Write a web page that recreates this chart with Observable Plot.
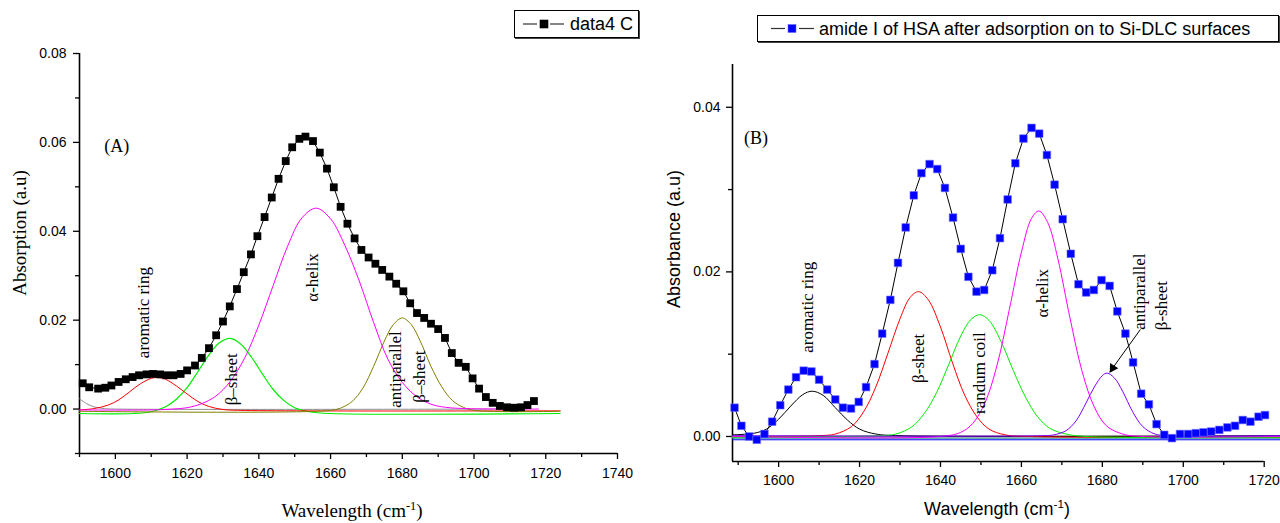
<!DOCTYPE html>
<html><head><meta charset="utf-8">
<script src="https://cdn.jsdelivr.net/npm/d3@7"></script>
<script src="https://cdn.jsdelivr.net/npm/@observablehq/plot@0.6"></script>
<style>
body{margin:0;background:#fff;}
#wrap{position:relative;width:1280px;height:523px;overflow:hidden;background:#fff;}
.panel{position:absolute;top:0;}
.lab{position:absolute;white-space:nowrap;color:#000;line-height:1;}
.legend{position:absolute;box-sizing:border-box;border:1px solid #000;box-shadow:1px 1px 0 #444;background:#fff;font-family:"Liberation Sans",Arial,sans-serif;font-size:18px;color:#000;}
.legend svg{position:absolute;left:0;top:0;}
.legend span{position:absolute;top:50%;transform:translateY(-50%);white-space:nowrap;}
sup{font-size:65%;}
</style></head><body><div id="wrap"></div>
<script>
// ---------- Panel A data ----------
const aXDomain = [1590, 1740];
const aYDomain = [-0.01, 0.08];
const aXMajor = [1600, 1620, 1640, 1660, 1680, 1700, 1720, 1740];
const aXMinor = [1590, 1610, 1630, 1650, 1670, 1690, 1710, 1730];
const aYMajor = [0, 0.02, 0.04, 0.06, 0.08];
const aYMinor = [-0.01, 0.01, 0.03, 0.05, 0.07];

const aX = [1590.9,1592.7,1595.2,1597.2,1598.9,1600.9,1602.9,1604.8,1606.6,1608.7,1610.5,1612.5,1614.2,1616.2,1618.2,1620.0,1622.2,1624.1,1626.1,1628.1,1630.0,1631.9,1633.9,1635.8,1637.8,1639.6,1641.6,1643.6,1645.5,1647.5,1649.3,1651.3,1653.0,1655.1,1657.0,1659.0,1660.9,1662.8,1664.7,1666.7,1668.6,1670.6,1672.5,1674.4,1676.4,1678.3,1680.3,1682.2,1684.1,1686.1,1688.0,1690.0,1691.9,1693.8,1695.7,1697.7,1699.6,1701.4,1703.3,1705.2,1707.2,1709.2,1711.2,1713.1,1714.9,1716.7];
const aY = [0.0058,0.0049,0.0046,0.0048,0.0053,0.0061,0.0067,0.0072,0.0076,0.0078,0.0079,0.0078,0.0076,0.0076,0.0079,0.0087,0.0098,0.0115,0.0137,0.0166,0.0197,0.0231,0.0270,0.0308,0.0348,0.0389,0.0432,0.0476,0.0518,0.0558,0.0589,0.0608,0.0613,0.0603,0.0577,0.0541,0.0499,0.0455,0.0417,0.0384,0.0358,0.0341,0.0327,0.0313,0.0298,0.0282,0.0265,0.0238,0.0216,0.0205,0.0192,0.0180,0.0160,0.0126,0.0104,0.0095,0.0069,0.0046,0.0027,0.0014,0.0007,0.0004,0.0003,0.0004,0.0009,0.0018];

const aGray = [[1590,0.0023],[1592,0.0012],[1594,0.0005],[1597,0.0001],[1600,0],[1712,0]];
const aRed = [[1590,-0.0002],[1594,0.0001],[1598,0.0009],[1601,0.0021],[1604,0.0039],[1607,0.0057],[1610,0.0069],[1612,0.0071],[1614,0.0067],[1617,0.0052],[1620,0.0034],[1623,0.0017],[1626,0.0006],[1630,-0.0001],[1635,-0.0003],[1724,-0.0004]];
const aGreen = [[1590,-0.0010],[1605,-0.0010],[1610,-0.0006],[1614,0.0005],[1617,0.0022],[1620,0.0048],[1623,0.0084],[1626,0.0121],[1629,0.0149],[1632,0.0159],[1635,0.0146],[1638,0.0116],[1641,0.0079],[1644,0.0044],[1647,0.0019],[1650,0.0003],[1654,-0.0006],[1660,-0.0010],[1724,-0.0010]];
const aMagenta = [[1590,-0.0002],[1610,-0.0002],[1616,0.0000],[1620,0.0003],[1624,0.0012],[1628,0.0029],[1632,0.0062],[1636,0.0114],[1640,0.0189],[1644,0.0278],[1648,0.0366],[1652,0.0430],[1656,0.0452],[1660,0.0428],[1664,0.0368],[1668,0.0288],[1672,0.0195],[1676,0.0112],[1680,0.0060],[1684,0.0028],[1688,0.0011],[1692,0.0004],[1698,0.0001],[1710,0.0000],[1718,0.0000]];
const aOlive = [[1590,-0.0005],[1660,-0.0003],[1663,0.0003],[1666,0.0017],[1669,0.0047],[1672,0.0096],[1675,0.0153],[1677.5,0.0190],[1680,0.0205],[1682.5,0.0190],[1685,0.0153],[1688,0.0096],[1691,0.0050],[1694,0.0019],[1697,0.0004],[1700,-0.0003],[1724,-0.0005]];

const aLabelText = ["aromatic ring", "\u03b2\u2013sheet", "\u03b1-helix", "antiparallel", "\u03b2\u2013sheet"];
const aLabelX = [1607.8, 1632.3, 1655.0, 1678.0, 1684.8];
const aLabelY = [0.0217, 0.0067, 0.0296, 0.0089, 0.0073];
const aTag = {text: "(A)", x: 1600.4, y: 0.0591};

// ---------- Panel B data ----------
const bXDomain = [1588.6, 1720];
const bYDomain = [-0.00304, 0.0452];
const bXMajor = [1600, 1620, 1640, 1660, 1680, 1700, 1720];
const bXMinor = [1590, 1610, 1630, 1650, 1670, 1690, 1710];
const bYMajor = [0, 0.02, 0.04];
const bYMinor = [0.01, 0.03];

const bX = [1589.1,1590.8,1592.7,1594.6,1596.5,1598.4,1600.4,1602.4,1604.3,1606.2,1608.1,1610.0,1612.0,1614.0,1615.9,1617.9,1619.8,1621.6,1623.7,1625.6,1627.6,1629.5,1631.4,1633.4,1635.3,1637.3,1639.2,1641.1,1643.1,1645.0,1646.9,1648.9,1650.8,1652.8,1654.7,1656.6,1658.5,1660.5,1662.5,1664.4,1666.3,1668.2,1670.2,1672.2,1674.1,1676.0,1677.9,1679.8,1681.8,1683.7,1685.7,1687.6,1689.6,1691.5,1693.4,1695.3,1697.2,1699.2,1701.2,1703.1,1705.0,1706.9,1708.9,1710.9,1712.8,1714.7,1716.6,1718.6,1720.2];
const bY = [0.0035,0.0013,0.0000,-0.0004,0.0003,0.0018,0.0038,0.0057,0.0072,0.0080,0.0079,0.0069,0.0057,0.0045,0.0035,0.0034,0.0042,0.0060,0.0088,0.0125,0.0166,0.0211,0.0254,0.0293,0.0320,0.0331,0.0325,0.0302,0.0266,0.0228,0.0194,0.0176,0.0178,0.0202,0.0241,0.0288,0.0332,0.0362,0.0375,0.0368,0.0342,0.0306,0.0264,0.0222,0.0185,0.0175,0.0178,0.0190,0.0183,0.0152,0.0125,0.0090,0.0052,0.0039,0.0015,0.0002,-0.0002,0.0003,0.0003,0.0004,0.0005,0.0006,0.0008,0.0011,0.0013,0.0020,0.0018,0.0024,0.0026];

const bGrayBase = [[1588.6,0.0000],[1724,0.0000]];
const bTealBase = [[1588.6,-0.0002],[1724,-0.0002]];
const bBlueBase = [[1588.6,-0.0004],[1724,-0.0004]];
const bBlack = [[1588.6,0.0002],[1594,0.0004],[1597,0.0009],[1600,0.0021],[1603,0.0037],[1606,0.0051],[1608.3,0.0055],[1611,0.0050],[1614,0.0035],[1617,0.0020],[1620,0.0009],[1624,0.0003],[1630,0.0001],[1724,0.0001]];
const bRed = [[1588.6,0.0000],[1610,0.0001],[1614,0.0003],[1618,0.0012],[1621,0.0030],[1624,0.0060],[1627,0.0101],[1630,0.0143],[1632.5,0.0169],[1634.6,0.0176],[1637,0.0166],[1640,0.0133],[1643,0.0089],[1646,0.0050],[1649,0.0024],[1652,0.0009],[1656,0.0002],[1662,0.0000],[1724,-0.0001]];
const bGreen = [[1588.6,-0.0001],[1625,0.0001],[1629,0.0003],[1633,0.0012],[1636,0.0028],[1639,0.0053],[1642,0.0087],[1645,0.0122],[1647.5,0.0142],[1649.7,0.0148],[1652,0.0141],[1655,0.0115],[1658,0.0080],[1661,0.0048],[1664,0.0024],[1667,0.0010],[1671,0.0003],[1676,0.0000],[1724,-0.0001]];
const bMagenta = [[1588.6,0.0000],[1640,0.0000],[1645,0.0005],[1648,0.0016],[1651,0.0041],[1654,0.0087],[1657,0.0154],[1660,0.0224],[1662.5,0.0265],[1664.3,0.0274],[1666.5,0.0260],[1669,0.0216],[1672,0.0144],[1675,0.0079],[1678,0.0036],[1681,0.0013],[1685,0.0003],[1690,0.0000],[1724,0.0000]];
const bPurple = [[1588.6,0.0001],[1665,0.0001],[1668,0.0002],[1671,0.0007],[1673.5,0.0019],[1676,0.0041],[1678,0.0060],[1680,0.0074],[1681.2,0.0077],[1683,0.0071],[1685,0.0055],[1687.5,0.0030],[1690,0.0012],[1693,0.0003],[1697,0.0001],[1724,0.0001]];

const bLabelText = ["aromatic ring", "\u03b2-sheet", "randum coil", "\u03b1-helix", "antiparallel", "\u03b2-sheet"];
const bLabelX = [1607.2, 1634.5, 1649.6, 1665.2, 1689.3, 1694.7];
const bLabelY = [0.0157, 0.0095, 0.0077, 0.0174, 0.0176, 0.0159];
const bTag = {text: "(B)", x: 1594.4, y: 0.0363};
const bArrow = {x1: 1689.4, y1: 0.0130, x2: 1681.8, y2: 0.0078};

// ---------- helpers ----------
const SERIF = "Liberation Serif, Times New Roman, serif";
const SANS = "Liberation Sans, Arial, sans-serif";
const pts = arr => arr.map(([x, y]) => ({x, y}));
const zipXY = (xs, ys) => xs.map((x, i) => ({x, y: ys[i]}));
const labels = (t, xs, ys) => t.map((text, i) => ({text, x: xs[i], y: ys[i]}));
const comp = (arr, color, w = 1) => Plot.line(pts(arr), {x: "x", y: "y", stroke: color, strokeWidth: w, curve: "catmull-rom"});
const blank = () => "";
const intFmt = d => String(d);

function axes(xDom, yDom, xMaj, xMin, yMaj, yMin, xPad, yPad) {
  return [
    Plot.axisX({ticks: xMaj, tickSize: 6, tickPadding: xPad, fontSize: 14, tickFormat: intFmt, label: null, strokeWidth: 1.3}),
    Plot.axisX({ticks: xMin, tickSize: 4, tickFormat: blank, label: null, strokeWidth: 1.3}),
    Plot.axisY({ticks: yMaj, tickSize: 6, tickPadding: yPad, fontSize: 14, tickFormat: d3.format(".2f"), label: null, strokeWidth: 1.3}),
    Plot.axisY({ticks: yMin, tickSize: 4, tickFormat: blank, label: null, strokeWidth: 1.3}),
    Plot.ruleX([xDom[0]], {y1: yDom[0], y2: yDom[1], stroke: "black", strokeWidth: 1.6}),
    Plot.ruleY([yDom[0]], {x1: xDom[0], x2: xDom[1], stroke: "black", strokeWidth: 1.6})
  ];
}

const style = {fontFamily: SANS, fontSize: "14px", color: "black", background: "transparent", overflow: "visible"};

const plotA = Plot.plot({
  width: 640, height: 523,
  marginLeft: 79, marginRight: 23, marginTop: 53, marginBottom: 70,
  x: {domain: aXDomain}, y: {domain: aYDomain},
  style,
  marks: [
    ...axes(aXDomain, aYDomain, aXMajor, aXMinor, aYMajor, aYMinor, 9, 7),
    comp(aGray, "#8c8c8c"),
    comp(aGreen, "#00ee00", 1.2),
    comp(aRed, "#ff0000"),
    comp(aOlive, "#808000"),
    comp(aMagenta, "#ff00ff"),
    Plot.line(zipXY(aX, aY), {x: "x", y: "y", stroke: "black", strokeWidth: 1}),
    Plot.dot(zipXY(aX, aY), {x: "x", y: "y", symbol: "square", r: 4.4, fill: "black", stroke: "none"}),
    Plot.text(labels(aLabelText, aLabelX, aLabelY), {x: "x", y: "y", text: "text", rotate: -90, fontFamily: SERIF, fontSize: 17, fill: "black"}),
    Plot.text([aTag], {x: "x", y: "y", text: "text", fontFamily: SERIF, fontSize: 18, fill: "black"})
  ]
});

// arrow head position: a little back from the arrow's end, along the arrow
const headPos = [{x: bArrow.x2 + (bArrow.x1 - bArrow.x2) * 0.1, y: bArrow.y2 + (bArrow.y1 - bArrow.y2) * 0.1}];

const plotB = Plot.plot({
  width: 640, height: 523,
  marginLeft: 92, marginRight: 16.3, marginTop: 64, marginBottom: 62,
  x: {domain: bXDomain}, y: {domain: bYDomain},
  style,
  marks: [
    ...axes(bXDomain, bYDomain, bXMajor, bXMinor, bYMajor, bYMinor, 8, 6),
    comp(bBlueBase, "#0000ff"),
    comp(bTealBase, "#008080"),
    comp(bGrayBase, "#8c8c8c", 2.2),
    comp(bBlack, "#000000"),
    comp(bRed, "#ff0000"),
    comp(bGreen, "#00ee00"),
    comp(bMagenta, "#ff00ff"),
    comp(bPurple, "#8000ff"),
    Plot.line(zipXY(bX, bY), {x: "x", y: "y", stroke: "black", strokeWidth: 1}),
    Plot.dot(zipXY(bX, bY), {x: "x", y: "y", symbol: "square", r: 4.3, fill: "#0000ff", stroke: "#6b6bff", strokeWidth: 0.6}),
    Plot.link([bArrow], {x1: "x1", y1: "y1", x2: "x2", y2: "y2", stroke: "black", strokeWidth: 1}),
    Plot.dot(headPos, {x: "x", y: "y", symbol: "triangle", rotate: 212, r: 3.6, fill: "black", stroke: "none"}),
    Plot.text(labels(bLabelText, bLabelX, bLabelY), {x: "x", y: "y", text: "text", rotate: -90, fontFamily: SERIF, fontSize: 17, fill: "black"}),
    Plot.text([bTag], {x: "x", y: "y", text: "text", fontFamily: SERIF, fontSize: 18, fill: "black"})
  ]
});

const wrap = document.getElementById("wrap");
plotA.classList.add("panel"); plotA.style.left = "0px";
plotB.classList.add("panel"); plotB.style.left = "640px";
wrap.appendChild(plotA);
wrap.appendChild(plotB);

function addLabel(html, family, cx, cy, size, rotate) {
  const d = document.createElement("div");
  d.className = "lab";
  d.innerHTML = html;
  d.style.fontFamily = family;
  d.style.fontSize = size + "px";
  d.style.left = cx + "px";
  d.style.top = cy + "px";
  d.style.transform = "translate(-50%,-50%)" + (rotate ? " rotate(-90deg)" : "");
  wrap.appendChild(d);
}
addLabel("Absorption (a.u)", SERIF, 19, 233, 19, true);
addLabel("Wavelength (cm<sup>-1</sup>)", SERIF, 352, 510, 19, false);
addLabel("Absorbance (a.u)", SANS, 674, 239, 18, true);
addLabel("Wavelength (cm<sup>-1</sup>)", SANS, 997, 508, 18, false);

function addLegend(left, top, width, height, fill, stroke, text, l1, sq, l2, tx) {
  const d = document.createElement("div");
  d.className = "legend";
  Object.assign(d.style, {left: left + "px", top: top + "px", width: width + "px", height: height + "px"});
  const cy = height / 2 - 1;
  d.innerHTML = `<svg width="${tx}" height="${height}">
    <line x1="${l1[0]}" x2="${l1[1]}" y1="${cy}" y2="${cy}" stroke="#333" stroke-width="1.2"/>
    <rect x="${sq - 4}" y="${cy - 4}" width="8" height="8" fill="${fill}" stroke="${stroke}" stroke-width="0.6"/>
    <line x1="${l2[0]}" x2="${l2[1]}" y1="${cy}" y2="${cy}" stroke="#333" stroke-width="1.2"/>
  </svg><span style="left:${tx}px">${text}</span>`;
  wrap.appendChild(d);
}
addLegend(514, 10, 125, 28, "#000", "#000", "data4 C", [8, 22], 29, [35, 49], 55);
addLegend(757, 15, 522, 27, "#0000ff", "#6b6bff", "amide I of HSA after adsorption on to Si-DLC surfaces", [13, 27], 34, [41, 56], 61);
</script></body></html>
